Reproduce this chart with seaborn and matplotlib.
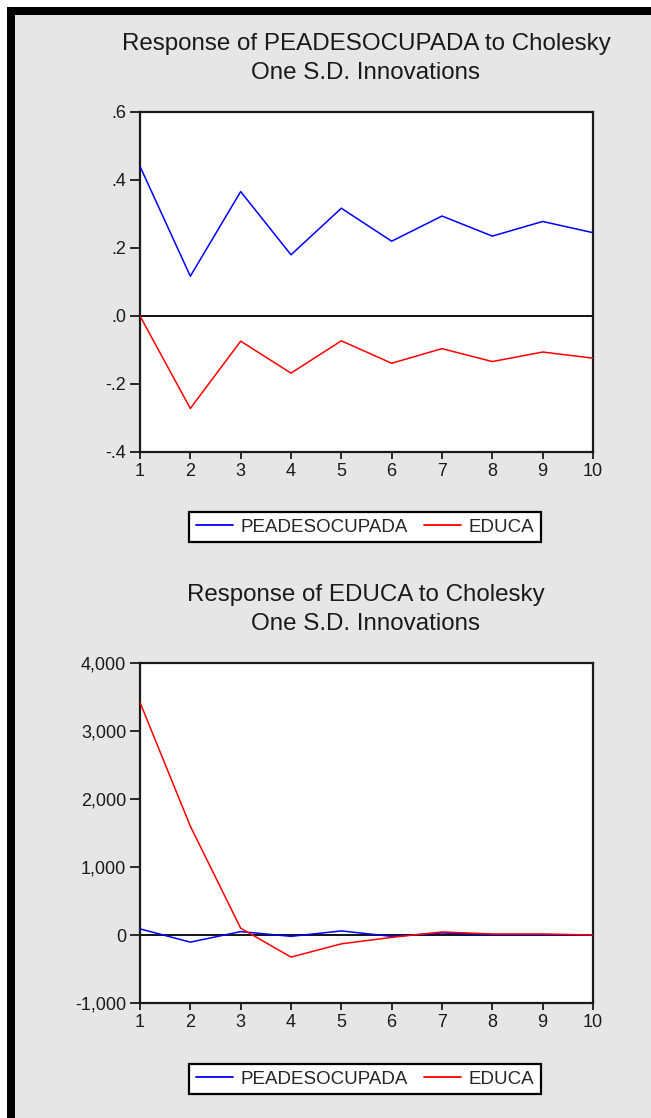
import pandas as pd
import matplotlib.pyplot as plt
import seaborn as sns
from matplotlib.patches import Rectangle
from matplotlib.ticker import FuncFormatter

# ==========================================
# 1. DATA
# ==========================================
periods = [1, 2, 3, 4, 5, 6, 7, 8, 9, 10]
series_names = ['PEADESOCUPADA', 'EDUCA']

# Response of PEADESOCUPADA
pea_to_pea = [0.44, 0.117, 0.366, 0.18, 0.317, 0.22, 0.294, 0.235, 0.278, 0.245]
pea_to_educa = [0.0, -0.272, -0.074, -0.168, -0.073, -0.139, -0.096, -0.134, -0.106, -0.124]

# Response of EDUCA
educa_to_pea = [90, -105, 50, -20, 60, -20, 30, 5, 5, 0]
educa_to_educa = [3420, 1600, 100, -325, -130, -35, 45, 15, 15, 0]

top_ticks = [-0.4, -0.2, 0.0, 0.2, 0.4, 0.6]
top_ticklabels = ['-.4', '-.2', '.0', '.2', '.4', '.6']
bottom_ticks = [-1000, 0, 1000, 2000, 3000, 4000]

titles = ['Response of PEADESOCUPADA to Cholesky\nOne S.D. Innovations',
          'Response of EDUCA to Cholesky\nOne S.D. Innovations']


def long_frame(a, b):
    return pd.DataFrame({
        'Period': periods * 2,
        'Response': a + b,
        'Shock': [series_names[0]] * len(periods) + [series_names[1]] * len(periods),
    })


top_df = long_frame(pea_to_pea, pea_to_educa)
bottom_df = long_frame(educa_to_pea, educa_to_educa)

# ==========================================
# 2. STYLE
# ==========================================
sns.set_style('ticks')
plt.rcParams['font.family'] = ['Liberation Sans', 'DejaVu Sans']
palette = {'PEADESOCUPADA': '#0000ff', 'EDUCA': '#ff0000'}
BG = '#e6e6e6'

W, H = 651, 1118
fig = plt.figure(figsize=(W / 100, H / 100), dpi=100, facecolor='white')

# EViews-style frame: black band on top/left, gray panel
fig.patches.append(Rectangle((7 / W, 0), 1, 1 - 7 / H, transform=fig.transFigure,
                             facecolor='black', edgecolor='none', zorder=-10))
fig.patches.append(Rectangle((15 / W, 0), 1, 1 - 15 / H, transform=fig.transFigure,
                             facecolor=BG, edgecolor='none', zorder=-9))

ax_left, ax_w, ax_h = 140 / W, 453 / W, 340 / H
ax_top = fig.add_axes([ax_left, 1 - 452 / H, ax_w, ax_h])
ax_bot = fig.add_axes([ax_left, 1 - 1003 / H, ax_w, ax_h])

# ==========================================
# 3. PLOT
# ==========================================
panels = [
    (ax_top, top_df, top_ticks, (-0.4, 0.6), 0.5286),
    (ax_bot, bottom_df, bottom_ticks, (-1000, 4000), 0.0349),
]

for ax, df, yt, ylim, leg_y in panels:
    ax.set_facecolor('white')
    ax.axhline(0, color='black', lw=1.3, zorder=1)
    sns.lineplot(data=df, x='Period', y='Response', hue='Shock', palette=palette,
                 ax=ax, lw=1.1, legend=False, zorder=3)
    ax.set_xlim(1, 10)
    ax.set_ylim(*ylim)
    ax.set_xticks(periods)
    ax.set_yticks(yt)
    ax.set_xlabel('')
    ax.set_ylabel('')
    for s in ax.spines.values():
        s.set_visible(True)
        s.set_linewidth(1.6)
        s.set_color('#1a1a1a')
    ax.tick_params(axis='y', direction='out', length=7, width=1.3,
                   labelsize=13, colors='#1a1a1a', pad=3)
    ax.tick_params(axis='x', direction='out', length=5, width=1.3,
                   labelsize=13, colors='#1a1a1a', pad=3)
    ax.tick_params(top=False, right=False)

    handles = [plt.Line2D([], [], color=palette[n], lw=1.3) for n in series_names]
    leg = fig.legend(handles, series_names, loc='center', bbox_to_anchor=(0.5607, leg_y),
                     ncol=2, frameon=True, fancybox=False, fontsize=13.5,
                     handlelength=2.0, columnspacing=0.85, handletextpad=0.4,
                     borderpad=0.35, borderaxespad=0)
    leg.get_frame().set_edgecolor('black')
    leg.get_frame().set_linewidth(1.6)
    leg.get_frame().set_facecolor('white')
    leg.get_frame().set_alpha(1)

ax_top.yaxis.set_ticklabels(top_ticklabels)
ax_bot.yaxis.set_major_formatter(FuncFormatter(lambda v, p: f'{v:,.0f}'))

fig.text(0.5622, 0.9477, titles[0], ha='center', va='center', fontsize=17.4,
         linespacing=1.4, color='#1a1a1a')
fig.text(0.5622, 0.4546, titles[1], ha='center', va='center', fontsize=17.4,
         linespacing=1.4, color='#1a1a1a')

plt.savefig('out.png', dpi=100)
